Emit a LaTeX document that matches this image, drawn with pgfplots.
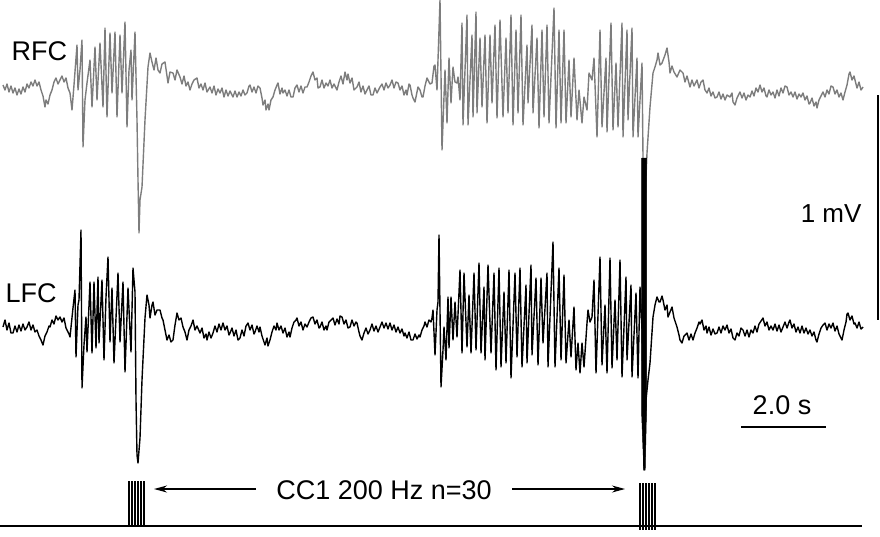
\documentclass[border=0pt]{standalone}
\usepackage{pgfplots}
\pgfplotsset{compat=1.18}
\usepackage{fontspec}
\setmainfont{Liberation Sans}
\usetikzlibrary{arrows.meta}
\definecolor{rfcgray}{RGB}{125,125,125}
\begin{document}
\begin{tikzpicture}
\begin{axis}[name=ax, scale only axis, width=880pt, height=536pt,
  xmin=0, xmax=880, ymin=0, ymax=536, y dir=reverse, hide axis, clip=false,
  unbounded coords=jump]
% RFC trace (grey)
\addplot[rfcgray, line width=1.4pt, line join=round] coordinates {
(3,85) (5,90) (7,84) (9,92) (11,86) (13,93) (15,88) (17,95) (19,89) (21,94) (23,87) (25,92) (27,84) (29,88) (31,82) (33,86) (35,80) (37,86) (39,82) (41,90) (43,96) (45,107) (46,100) (48,104) (50,95) (52,90) (54,82) (56,78) (58,84) (60,80) (62,76) (64,82) (66,78) (68,88) (70,93) (72,110)
(74,85) (77,45) (78,90) (80,70) (82,40) (83,147) (85,100) (87,83) (90,60) (92,107) (95,47) (97,100) (100,43) (103,107) (105,28) (107,117) (110,33) (112,93) (115,32) (117,117) (120,35) (122,93) (125,22) (127,127) (129,70) (131,50) (132,100) (135,32) (137,120) (138,180) (139,233) (140,200) (142,187) (145,120) (148,67) (150,53) (152,62)
(154,70) (156,58) (158,70) (160,73) (162,64) (165,62) (167,76) (168,83) (170,72) (173,73) (175,80) (177,70) (180,77) (182,84) (184,76) (186,86) (188,82) (190,90) (192,84) (194,80) (197,78) (199,88) (201,84) (203,90) (205,83) (207,92) (210,87) (212,93) (214,86) (216,95) (218,89) (220,93) (222,88) (224,97) (226,90) (228,96) (230,91) (233,97) (235,91) (237,97) (239,92) (241,96) (243,90) (245,95) (247,93) (249,86) (250,85) (252,92) (254,87) (256,93) (258,86) (260,88) (262,98) (263,105) (265,100) (266,110) (268,104) (269,110) (271,100) (273,97) (275,90) (277,85) (278,83) (280,94) (282,88) (283,93) (285,90) (287,96) (289,90) (291,97) (293,97) (295,88) (297,85) (299,92) (301,86) (303,93) (305,87) (307,87) (309,82) (311,76) (313,72) (315,80) (317,78) (318,88) (320,87) (322,80) (324,88) (326,83) (328,86) (330,80) (332,88) (334,84) (337,90) (339,82) (341,76) (343,84) (345,72) (347,80) (348,74) (350,83) (352,78) (354,90) (357,87) (359,82) (361,92) (363,86) (365,94) (367,90) (369,86) (371,95) (373,95) (375,88) (377,93) (380,87) (382,84) (384,90) (386,83) (388,88) (390,85) (392,80) (394,88) (396,82) (398,83) (400,90) (402,86) (404,95) (406,90) (407,95) (409,84) (410,85) (412,95) (413,98) (415,102) (417,92) (418,87) (420,90) (422,97) (423,97) (425,86) (427,78) (430,84) (432,83) (434,66) (435,65) (437,90) (438,60)
(440,0) (442,150) (445,70) (447,123) (449,58) (451,103) (453,67) (455,82) (457,83) (458,77) (460,100) (462,23) (463,125) (467,15) (468,125) (472,35) (473,117) (476,12) (477,113) (480,38) (482,107) (485,35) (487,123) (490,35) (492,103) (495,25) (497,118) (500,20) (503,117) (506,38) (508,113) (511,15) (513,125) (516,30) (518,113) (521,15) (523,125) (527,45) (528,103) (532,25) (533,113) (537,38) (539,128) (542,30) (544,117) (547,25) (549,123) (554,8) (556,128) (559,30) (561,123) (564,30) (566,123) (569,60) (571,117) (574,58) (577,120) (579,90) (582,123) (584,97) (587,110) (589,73) (592,80) (594,58) (597,137) (600,30) (602,127) (606,58) (607,132) (611,23) (613,130) (616,63) (618,127) (622,23) (623,137) (627,30) (628,120) (632,28) (633,137) (637,58) (638,137) (642,63) (643,157) (644,250) (645,200) (647,153) (650,107) (653,73) (655,67) (657,60) (658,53) (660,65) (662,63) (665,55) (667,48) (669,62) (670,73) (672,66) (674,72) (677,77)
(680,70) (683,73) (685,82) (687,76) (690,87) (692,80) (694,86) (697,80) (699,88) (701,82) (703,80) (705,90) (707,93) (709,88) (711,96) (713,92) (715,98) (717,97) (719,92) (721,99) (723,94) (725,100) (727,95) (730,97) (732,93) (733,102) (735,105) (737,98) (740,92) (742,98) (744,93) (746,100) (748,95) (750,97) (752,91) (754,96) (756,88) (758,92) (760,85) (762,92) (764,88) (766,96) (767,97) (769,90) (771,95) (773,92) (775,98) (777,90) (779,96) (781,88) (783,93) (785,86) (787,87) (789,95) (791,92) (793,97) (795,92) (797,99) (799,94) (801,97) (803,93) (805,100) (807,96) (809,104) (810,103) (812,98) (814,106) (816,102) (817,108) (819,100) (821,96) (823,92) (825,97) (827,90) (829,94) (831,86) (833,87) (835,94) (837,90) (839,97) (841,93) (843,100) (845,92) (847,85) (849,74) (850,72) (852,80) (854,76) (855,80) (857,88) (859,82) (861,90) (863,87)
};
% LFC trace (black)
\addplot[black, line width=1.4pt, line join=round] coordinates {
(3,327) (5,320) (7,330) (9,323) (11,333) (13,333) (15,326) (17,332) (19,325) (21,331) (23,324) (25,330) (27,327) (29,322) (31,330) (33,325) (35,332) (37,330) (39,336) (41,340) (43,345) (45,336) (47,332) (49,326) (50,327) (52,320) (54,324) (56,316) (58,320) (60,317) (62,322) (64,318) (66,328) (67,330) (69,334) (70,337)
(73,308) (75,290) (76,357) (78,305) (79,300) (81,230) (82,388) (84,345) (86,317) (87,352) (90,282) (92,353) (94,282) (96,348) (98,277) (99,343) (102,280) (104,360) (106,297) (108,257) (110,342) (112,288) (114,363) (118,273) (120,342) (123,282) (125,372) (128,288) (131,352) (133,268) (135,292) (136,400) (137,455) (138,463) (140,438) (142,380) (145,318) (147,295) (149,305) (150,318) (152,305) (153,302) (155,315) (157,310) (160,310) (162,318) (163,320) (165,330) (167,340) (169,335) (171,342) (173,340) (175,325) (177,313) (179,320) (181,318) (183,327) (185,332) (187,340) (189,330) (191,326) (193,320) (195,330) (197,326) (200,333) (202,328) (204,338) (206,334) (207,340) (209,332) (211,338) (213,333) (215,326) (217,332) (219,324) (221,330) (223,323) (225,330) (227,326) (229,335) (230,333) (232,328) (234,336) (236,330) (238,340) (240,338) (242,330) (244,336) (246,326) (248,323) (250,330) (252,325) (254,334) (255,332) (257,326) (259,332) (260,327) (262,336) (264,342) (265,345) (267,338) (268,346) (270,340) (272,332) (274,326) (276,330) (277,323) (279,330) (281,326) (283,333) (285,328) (287,337) (289,332) (290,337) (292,328) (294,322) (296,320) (297,318) (299,326) (301,322) (303,330) (305,324) (307,327) (309,322) (311,318) (313,317) (315,324) (317,320) (319,328) (320,327) (322,322) (324,330) (326,326) (327,330) (329,322) (331,320) (333,318) (335,325) (337,319) (339,324) (340,316) (342,317) (344,324) (346,320) (348,328) (350,327) (352,320) (354,326) (356,322) (357,323) (359,332) (360,336) (362,340) (364,333) (366,328) (368,334) (370,330) (372,324) (374,331) (376,326) (378,332) (380,327) (382,322) (384,328) (386,323) (388,329) (390,323) (392,330) (394,325) (396,332) (398,327) (400,333) (402,329) (404,336) (405,333) (407,338) (409,332) (411,340) (413,340) (415,334) (417,339) (419,335) (420,337) (422,330) (424,326) (425,322) (427,327) (429,320) (431,322)
(432,318) (433,310) (435,355) (437,310) (438,302) (439,235) (441,387) (443,350) (444,327) (446,360) (448,297) (449,348) (451,297) (453,340) (455,302) (457,337) (460,270) (462,353) (464,273) (467,347) (469,295) (471,353) (474,273) (476,350) (479,263) (481,353) (484,287) (485,360) (488,265) (491,353) (494,273) (496,370) (499,268) (501,367) (504,292) (506,363) (509,270) (511,378) (515,273) (517,357) (520,268) (522,367) (526,285) (527,363) (531,265) (532,355) (536,278) (538,365) (541,278) (543,343) (547,273) (548,367) (553,242) (555,367) (559,268) (561,360) (564,275) (566,363) (569,320) (571,357) (574,307) (576,370) (578,343) (580,373) (582,343) (584,367) (587,323) (588,310) (590,322) (592,317) (594,280) (596,373) (600,257) (602,365) (605,305) (607,373) (610,258) (612,368) (615,300) (617,360) (620,260) (622,377) (626,277) (627,360) (631,285) (632,377) (636,293) (638,378) (640,287) (642,330) (644,470) (646,400) (648,380) (650,363) (653,317) (655,305) (657,297) (659,302) (660,302) (662,296) (663,300) (665,310) (667,305) (668,317)
(672,307) (674,318) (677,327) (679,335) (680,340) (682,343) (684,336) (687,333) (689,340) (691,334) (693,340) (695,333) (697,328) (699,322) (700,324) (702,320) (704,330) (706,326) (707,333) (709,327) (711,335) (713,329) (715,334) (717,333) (719,327) (721,333) (723,326) (725,330) (727,325) (729,333) (731,329) (733,338) (735,340) (737,333) (739,336) (741,328) (743,330) (745,336) (747,330) (749,337) (751,330) (753,333) (755,326) (757,332) (759,324) (761,321) (763,318) (765,326) (767,322) (769,330) (771,326) (773,330) (775,324) (777,331) (779,325) (781,332) (783,327) (785,322) (787,328) (789,322) (790,320) (792,328) (794,324) (796,332) (798,327) (800,333) (802,326) (804,333) (806,328) (808,334) (810,330) (812,336) (814,332) (816,340) (817,342) (819,334) (821,328) (823,325) (825,323) (827,330) (829,324) (831,328) (833,323) (835,331) (837,326) (839,334) (841,338) (842,340) (844,330) (846,322) (847,314) (848,313) (850,320) (852,316) (854,324) (855,323) (857,328) (859,322) (861,329) (863,327)
};
% stimulus artifact bar
\addplot[black, fill=black, line width=0.5pt] coordinates {
(641.5,158) (646.5,158) (646.5,410) (645.2,470) (643.8,470) (641.5,410) (641.5,158)};
% stimulus pulse trains
\addplot[black, line width=1.6pt] coordinates {
(129,481) (129,525) (130,nan) (132,481) (132,525) (133,nan) (135,481) (135,525) (136,nan)
(138,481) (138,525) (139,nan) (141,481) (141,525) (142,nan) (144,481) (144,525) (145,nan)
(640,483) (640,530) (641,nan) (643,483) (643,530) (644,nan) (646,483) (646,530) (647,nan)
(649,483) (649,530) (650,nan) (652,483) (652,530) (653,nan) (655,483) (655,530)};
% bottom baseline
\addplot[black, line width=1.2pt] coordinates {(0,526) (862,526)};
% scale bars
\addplot[black, line width=2pt] coordinates {(878,95) (878,320)};
\addplot[black, line width=1.6pt] coordinates {(741,427) (826,427)};
% text
\node[anchor=west, font=\fontsize{27}{32}\selectfont] at (axis cs:8,51) {RFC};
\node[anchor=west, font=\fontsize{27}{32}\selectfont] at (axis cs:2,293) {LFC};
\node[anchor=east, font=\fontsize{26}{31}\selectfont] at (axis cs:865,214) {1 mV};
\node[font=\fontsize{27}{32}\selectfont] at (axis cs:782,405) {2.0 s};
\node[font=\fontsize{27}{32}\selectfont] at (axis cs:384,490) {CC1 200 Hz n=30};
\draw[black, line width=1.3pt, -{Stealth[length=13pt,width=7pt]}] (axis cs:256,489) -- (axis cs:154,489);
\draw[black, line width=1.3pt, -{Stealth[length=13pt,width=7pt]}] (axis cs:512,489) -- (axis cs:625,489);
\end{axis}
\pgfresetboundingbox
\path (ax.south west) rectangle (ax.north east);
\end{tikzpicture}
\end{document}
